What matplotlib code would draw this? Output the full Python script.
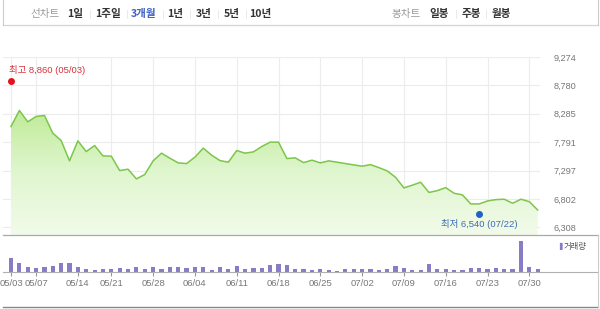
import numpy as np
import matplotlib.pyplot as plt
from matplotlib.lines import Line2D
from matplotlib.colors import LinearSegmentedColormap

plt.rcParams['font.family'] = ['Liberation Sans', 'Noto Sans CJK KR', 'DejaVu Sans']

# daily close prices (64 trading days)
close = [8063, 8343, 8145, 8238, 8256, 7948, 7819, 7465, 7814, 7627,
         7732, 7552, 7547, 7296, 7320, 7151, 7227, 7465, 7599, 7512,
         7430, 7418, 7530, 7687, 7564, 7470, 7442, 7645, 7599, 7622,
         7715, 7791, 7791, 7506, 7517, 7435, 7477, 7430, 7465, 7442,
         7418, 7395, 7372, 7400, 7348, 7290, 7180, 6994, 7041, 7093,
         6915, 6947, 6999, 6901, 6872, 6715, 6715, 6767, 6790, 6797,
         6727, 6797, 6755, 6610]

# volume (thousand shares)
volume = [137, 83, 50, 33, 43, 60, 83, 83, 50, 23,
          13, 23, 23, 33, 23, 43, 23, 43, 23, 43,
          43, 33, 43, 50, 17, 43, 23, 57, 23, 40,
          40, 70, 73, 67, 23, 30, 17, 23, 17, 7,
          30, 23, 23, 23, 13, 30, 60, 33, 13, 13,
          77, 23, 23, 13, 13, 33, 33, 23, 33, 23,
          23, 307, 43, 23]

tick_idx = [0, 3, 8, 12, 17, 22, 27, 32, 37, 42, 47, 52, 57, 62]
tick_labels = ['05/03', '05/07', '05/14', '05/21', '05/28', '06/04', '06/11',
               '06/18', '06/25', '07/02', '07/09', '07/16', '07/23', '07/30']
y_ticks = [6308, 6802, 7297, 7791, 8285, 8780, 9274]

high_idx, high_val, high_date = 0, 8860, '05/03'
low_idx, low_val, low_date = 56, 6540, '07/22'

W, H = 600, 309


def box(x0, y0, x1, y1):
    # pixel box (top-left origin) -> figure fraction rect
    return [x0 / W, 1 - y1 / H, (x1 - x0) / W, (y1 - y0) / H]


fig = plt.figure(figsize=(6, 3.09), dpi=100)
fig.patch.set_facecolor('white')

x = np.arange(len(close))
xlim = (-0.957, 63.28)
grid_c = '#ececec'
lab_c = '#777777'

# ---- price panel
ax = fig.add_axes(box(3, 57, 540, 235))
ax.set_xlim(*xlim)
ax.set_ylim(6174, 9274)
for s in ax.spines.values():
    s.set_visible(False)
ax.set_xticks(tick_idx)
ax.set_xticklabels([])
ax.tick_params(axis='x', length=0)
ax.yaxis.tick_right()
ax.set_yticks(y_ticks)
ax.set_yticklabels([f'{v:,}' for v in y_ticks], fontsize=6.6, color=lab_c)
ax.tick_params(axis='y', length=0, pad=10)
ax.grid(True, color=grid_c, linewidth=0.8)
ax.set_axisbelow(True)

# gradient fill under line
poly = ax.fill_between(x, close, 6174, color='none', linewidth=0)
cmap = LinearSegmentedColormap.from_list('g', ['#f2fbea', '#e0f6cf', '#bfeb98'])
grad = np.linspace(0, 1, 256).reshape(-1, 1)
img = ax.imshow(grad, cmap=cmap, aspect='auto', origin='lower',
                extent=[xlim[0], xlim[1], 6174, 8350], zorder=1)
img.set_clip_path(poly.get_paths()[0], transform=ax.transData)
ax.plot(x, close, color='#7cc64b', linewidth=1.1, zorder=3)

# high / low markers
ax.plot(high_idx, high_val, 'o', color='#e0141e', markersize=4, zorder=4)
ax.text(high_idx - 0.25, high_val + 185, f'최고 {high_val:,} ({high_date})',
        fontsize=6.8, color='#d9323a', ha='left', va='center')
ax.plot(low_idx, low_val, 'o', color='#1f63c6', markersize=4, zorder=4)
ax.text(low_idx, low_val - 180, f'최저 {low_val:,} ({low_date})',
        fontsize=6.8, color='#3b6cb4', ha='center', va='center')

# ---- volume panel
axv = fig.add_axes(box(3, 241, 540, 271.7))
axv.set_xlim(*xlim)
axv.set_ylim(0, 307)
axv.bar(x, volume, width=0.5, color='#8a7bc6')
for s in axv.spines.values():
    s.set_visible(False)
axv.set_yticks([])
axv.set_xticks(tick_idx)
axv.set_xticklabels(tick_labels, fontsize=6.8, color=lab_c)
axv.tick_params(axis='x', length=3, color='#999999', pad=2)
fig.text(561.5 / W, 1 - 246 / H, '▌', fontsize=5, color='#8a7bc6',
         ha='center', va='center', family=['DejaVu Sans'])
fig.text(564 / W, 1 - 246 / H, '거래량', fontsize=6, color='#555555',
         ha='left', va='center', family=['Noto Sans CJK KR'])

# ---- frame lines
def hline(y, x0=3, x1=598, c='#b5b5b5', lw=0.9):
    fig.add_artist(Line2D([x0 / W, x1 / W], [1 - y / H, 1 - y / H],
                          color=c, linewidth=lw))


def vline(xp, y0, y1, c='#cccccc', lw=0.8):
    fig.add_artist(Line2D([xp / W, xp / W], [1 - y0 / H, 1 - y1 / H],
                          color=c, linewidth=lw))


hline(25, c='#d5d5d5')
hline(235, c='#a8a8a8')
hline(271.7, c='#b0b0b0', lw=0.8)
hline(307, c='#888888', lw=1.0)
vline(3, 0, 25)
vline(597.7, 0, 25)
vline(597.7, 235, 307)

# ---- header menu
ty = 1 - 14 / H
hdr = [('선차트', 45, '#999999', 'normal'), ('1일', 75, '#333333', 'bold'),
       ('1주일', 108, '#333333', 'bold'), ('3개월', 143.5, '#3d5fc4', 'bold'),
       ('1년', 175, '#333333', 'bold'), ('3년', 203.5, '#333333', 'bold'),
       ('5년', 231.5, '#333333', 'bold'), ('10년', 260.5, '#333333', 'bold'),
       ('봉차트', 406, '#999999', 'normal'), ('일봉', 438.8, '#333333', 'bold'),
       ('주봉', 471, '#333333', 'bold'), ('월봉', 501.7, '#333333', 'bold')]
for t, xp, c, w in hdr:
    fig.text(xp / W, ty, t, fontsize=7.6, color=c, fontweight=w,
             ha='center', va='center', family=['Noto Sans CJK KR', 'DejaVu Sans'])
for xp in [90, 127, 163, 190, 218, 246, 455.7, 485.7]:
    vline(xp, 10, 18, c='#e6e6e6', lw=0.6)

fig.savefig('out.png', dpi=100)
